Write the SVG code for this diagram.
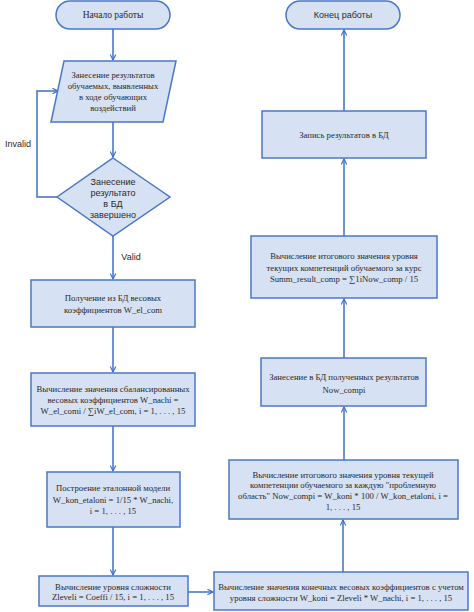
<svg xmlns="http://www.w3.org/2000/svg" width="474" height="612" viewBox="0 0 474 612">
<defs>
<style>
.n{fill:#d6e1f3;stroke:#4a78c8;stroke-width:1.5}
.s{font-family:"Liberation Serif","Times New Roman",serif;font-size:8.7px;fill:#2a2a2a;text-anchor:middle}
.a{font-family:"Liberation Sans",Arial,sans-serif;font-size:9px;fill:#2a2a2a;text-anchor:middle}
.c{fill:none;stroke:#3d6fc6;stroke-width:1.5}
</style>
<marker id="ar" viewBox="0 0 10 10" refX="9" refY="5" markerWidth="7" markerHeight="7" markerUnits="userSpaceOnUse" orient="auto">
<path d="M1,1 L9,5 L1,9" fill="none" stroke="#3d6fc6" stroke-width="1.6"/>
</marker>
</defs>
<rect width="474" height="612" fill="#ffffff"/>
<g id="connectors">
<path class="c" d="M113,29 V60" marker-end="url(#ar)"/>
<path class="c" d="M113,122 V157" marker-end="url(#ar)"/>
<path class="c" d="M57,197 H37 V91 H58" marker-end="url(#ar)"/>
<path class="c" d="M113,236 V279" marker-end="url(#ar)"/>
<path class="c" d="M113,327 V372" marker-end="url(#ar)"/>
<path class="c" d="M113,426 V471" marker-end="url(#ar)"/>
<path class="c" d="M113,527 V575" marker-end="url(#ar)"/>
<path class="c" d="M188,592 H213" marker-end="url(#ar)"/>
<path class="c" d="M343,572 V520" marker-end="url(#ar)"/>
<path class="c" d="M344,460 V407" marker-end="url(#ar)"/>
<path class="c" d="M344,358 V299" marker-end="url(#ar)"/>
<path class="c" d="M344,236 V159" marker-end="url(#ar)"/>
<path class="c" d="M344,111 V30" marker-end="url(#ar)"/>
<text class="a" x="18" y="147">Invalid</text>
<text class="a" x="131" y="260">Valid</text>
</g>
<g id="start">
<rect class="n" x="56" y="1" width="114" height="28" rx="14"/>
<text class="s" x="113" y="18" style="font-size:9.5px">Начало работы</text>
</g>
<g id="input">
<polygon class="n" points="64,61 176,61 163,122 51,122"/>
<text class="s" x="113" y="78">Занесение результатов</text>
<text class="s" x="113" y="89">обучаемых, выявленных</text>
<text class="s" x="113" y="100">в ходе обучающих</text>
<text class="s" x="113" y="111">воздействий</text>
</g>
<g id="decision">
<polygon class="n" points="113,158 170,197 113,236 57,197"/>
<text class="a" x="113" y="185">Занесение</text>
<text class="a" x="113" y="196">результато</text>
<text class="a" x="113" y="207">в БД</text>
<text class="a" x="113" y="218">завершено</text>
</g>
<g id="get-weights">
<rect class="n" x="31" y="280" width="164" height="47"/>
<text class="s" x="113" y="301">Получение из БД весовых</text>
<text class="s" x="113" y="313">коэффициентов W_el_com</text>
</g>
<g id="balance">
<rect class="n" x="31" y="373" width="164" height="53"/>
<text class="s" x="113" y="392">Вычисление значения сбалансированных</text>
<text class="s" x="113" y="403">весовых коэффициентов W_nachi =</text>
<text class="s" x="113" y="414">W_el_comi / ∑iW_el_com, i = 1, . . . , 15</text>
</g>
<g id="etalon">
<rect class="n" x="47" y="472" width="133" height="55"/>
<text class="s" x="113" y="491">Построение эталонной модели</text>
<text class="s" x="113" y="503">W_kon_etaloni = 1/15 * W_nachi,</text>
<text class="s" x="113" y="514">i = 1, . . . , 15</text>
</g>
<g id="complexity">
<rect class="n" x="39" y="576" width="149" height="30"/>
<text class="s" x="113" y="590">Вычисление уровня сложности</text>
<text class="s" x="113" y="600">Zleveli = Coeffi / 15, i = 1, . . . , 15</text>
</g>
<g id="final-weights">
<rect class="n" x="214" y="572" width="254" height="38"/>
<text class="s" x="341" y="590">Вычисление значения конечных весовых коэффициентов с учетом</text>
<text class="s" x="341" y="601">уровня сложности W_koni = Zleveli * W_nachi, i = 1, . . . , 15</text>
</g>
<g id="now-comp">
<rect class="n" x="229" y="460" width="229" height="59"/>
<text class="s" x="343" y="478">Вычисление итогового значения уровня текущей</text>
<text class="s" x="343" y="488">компетенции обучаемого за каждую "проблемную</text>
<text class="s" x="343" y="499">область" Now_compi = W_koni  * 100 / W_kon_etaloni, i =</text>
<text class="s" x="343" y="510">1, . . . , 15</text>
</g>
<g id="save-now">
<rect class="n" x="261" y="358" width="165" height="48"/>
<text class="s" x="344" y="380">Занесение в БД полученных результатов</text>
<text class="s" x="344" y="393">Now_compi</text>
</g>
<g id="summ">
<rect class="n" x="251" y="236" width="186" height="62"/>
<text class="s" x="344" y="259">Вычисление итогового значения уровня</text>
<text class="s" x="344" y="271">текущих компетенций обучаемого за курс</text>
<text class="s" x="344" y="282">Summ_result_comp = ∑1iNow_comp / 15</text>
</g>
<g id="save-result">
<rect class="n" x="262" y="111" width="164" height="47"/>
<text class="s" x="344" y="138">Запись результатов в БД</text>
</g>
<g id="end">
<rect class="n" x="286" y="1" width="114" height="28" rx="14"/>
<text class="a" x="343" y="18">Конец работы</text>
</g>
</svg>
